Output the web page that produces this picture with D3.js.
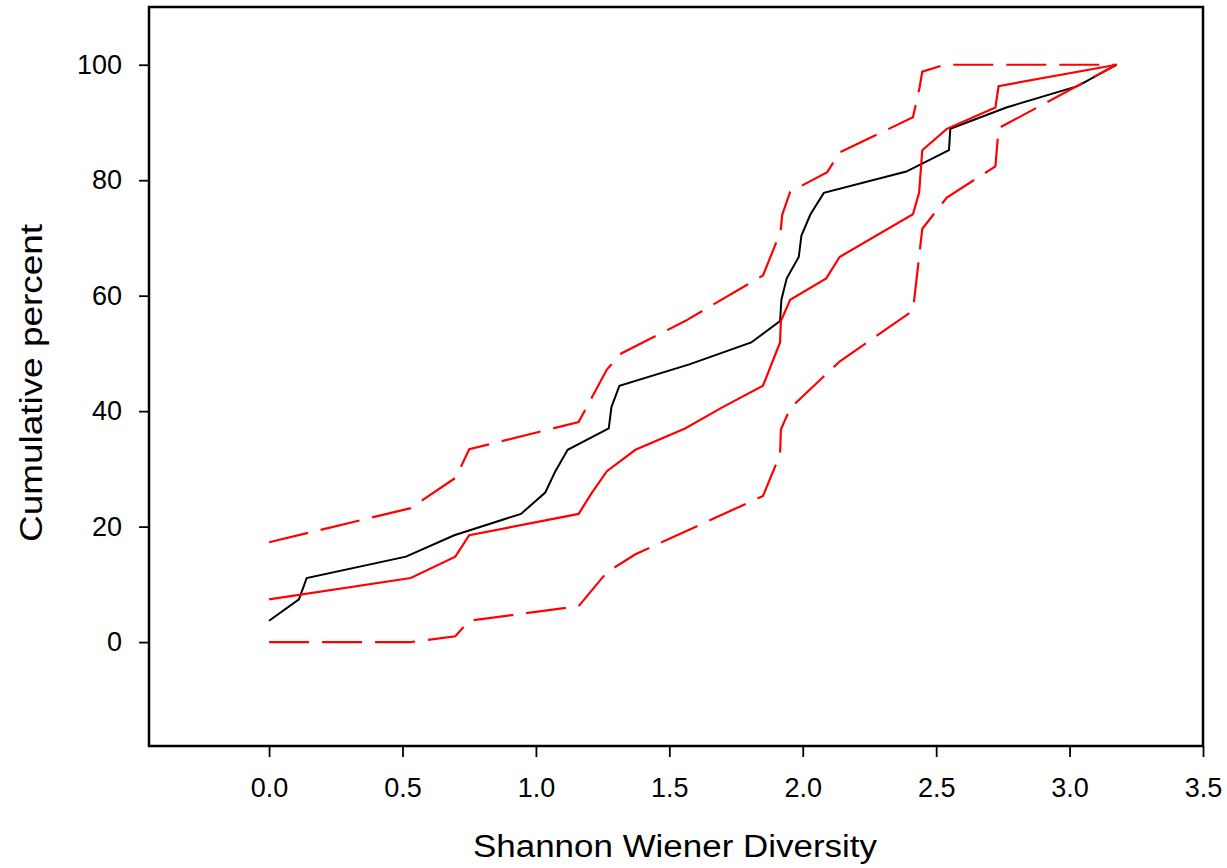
<!DOCTYPE html>
<html>
<head>
<meta charset="utf-8">
<script src="https://cdn.jsdelivr.net/npm/d3@7"></script>
<style>
  html, body { margin: 0; padding: 0; background: #fff; }
  svg { display: block; }
  text { font-family: "Liberation Sans", Arial, Helvetica, sans-serif; fill: #000; }
</style>
</head>
<body>
<svg id="chart" width="1227" height="868"></svg>
<script>
// ---- data ----
const xTickValues = [0.0, 0.5, 1.0, 1.5, 2.0, 2.5, 3.0, 3.5];
const yTickValues = [0, 20, 40, 60, 80, 100];

// observed cumulative distribution (black)
const observedX = [0, 0.112, 0.141, 0.513, 0.694, 0.944, 1.035, 1.073, 1.119, 1.273, 1.283, 1.313,
  1.575, 1.807, 1.915, 1.92, 1.94, 1.985, 1.995, 2.029, 2.079, 2.388, 2.548, 2.553, 2.763, 3.03, 3.176];
const observedY = [3.7, 7.4, 11.1, 14.8, 18.5, 22.2, 25.9, 29.6, 33.3, 37.0, 40.7, 44.4,
  48.1, 51.9, 55.6, 59.3, 63.0, 66.7, 70.4, 74.1, 77.8, 81.5, 85.2, 88.9, 92.6, 96.3, 100];

// expected (red solid)
const expectedX = [0, 0.531, 0.698, 0.75, 1.16, 1.21, 1.266, 1.373, 1.559, 1.70, 1.851, 1.915, 1.918,
  1.953, 2.088, 2.138, 2.413, 2.436, 2.442, 2.448, 2.54, 2.722, 2.734, 3.176];
const expectedY = [7.4, 11.1, 14.8, 18.5, 22.2, 25.9, 29.6, 33.3, 37.0, 40.7, 44.4, 51.9, 55.6,
  59.3, 63.0, 66.7, 74.1, 77.8, 81.5, 85.2, 88.9, 92.6, 96.3, 100];

// upper envelope (red dashed)
const upperX = [0, 0.531, 0.70, 0.75, 1.16, 1.266, 1.32, 1.559, 1.851, 1.917, 1.923, 1.953, 2.092,
  2.138, 2.413, 2.438, 2.448, 2.532, 3.176];
const upperY = [17.3, 23.2, 28.5, 33.4, 38.1, 47.2, 50.0, 55.6, 63.5, 71.1, 74.0, 78.0, 81.4,
  84.8, 90.9, 96.1, 98.8, 100, 100];

// lower envelope (red dashed)
const lowerX = [0, 0.531, 0.698, 0.75, 1.16, 1.266, 1.373, 1.851, 1.915, 1.918, 1.953, 2.138,
  2.413, 2.448, 2.54, 2.722, 2.734, 3.176];
const lowerY = [0, 0, 1.0, 3.7, 6.2, 12.1, 15.2, 25.3, 32.5, 36.8, 40.5, 48.6,
  57.4, 71.6, 77.0, 82.4, 89.0, 100];

const xTitle = "Shannon Wiener Diversity";
const yTitle = "Cumulative percent";

// ---- drawing ----
const svg = d3.select("#chart");
svg.append("rect").attr("width", 1227).attr("height", 868).attr("fill", "#fff");

const plot = { left: 149, right: 1203, top: 7, bottom: 746 };
const x = d3.scaleLinear().domain([-0.45, 3.5]).range([plot.left, plot.right]);
const y = d3.scaleLinear().domain([-18, 110]).range([plot.bottom, plot.top]);

const zip = (xs, ys) => xs.map((v, i) => [v, ys[i]]);
const line = d3.line().x(d => x(d[0])).y(d => y(d[1]));

svg.append("path").datum(zip(observedX, observedY))
  .attr("d", line).attr("fill", "none").attr("stroke", "#000").attr("stroke-width", 2)
  .attr("stroke-linejoin", "miter");
svg.append("path").datum(zip(expectedX, expectedY))
  .attr("d", line).attr("fill", "none").attr("stroke", "#ff0000").attr("stroke-width", 2.2);
svg.append("path").datum(zip(upperX, upperY))
  .attr("d", line).attr("fill", "none").attr("stroke", "#ff0000").attr("stroke-width", 2.2)
  .attr("stroke-dasharray", "40,13");
svg.append("path").datum(zip(lowerX, lowerY))
  .attr("d", line).attr("fill", "none").attr("stroke", "#ff0000").attr("stroke-width", 2.2)
  .attr("stroke-dasharray", "40,13");

// axes
const gx = svg.append("g").attr("transform", `translate(0,${plot.bottom})`)
  .call(d3.axisBottom(x).tickValues(xTickValues).tickFormat(d3.format(".1f")).tickSize(11).tickPadding(21));
const gy = svg.append("g").attr("transform", `translate(${plot.left},0)`)
  .call(d3.axisLeft(y).tickValues(yTickValues).tickFormat(d3.format("d")).tickSize(10).tickPadding(17));
[gx, gy].forEach(g => {
  g.select(".domain").remove();
  g.selectAll(".tick line").attr("stroke", "#000").attr("stroke-width", 1.8);
  g.selectAll(".tick text").attr("font-size", 27).attr("font-family", "Liberation Sans, Arial, sans-serif").attr("fill", "#000");
});

// frame
svg.append("rect")
  .attr("x", plot.left).attr("y", plot.top)
  .attr("width", plot.right - plot.left).attr("height", plot.bottom - plot.top)
  .attr("fill", "none").attr("stroke", "#000").attr("stroke-width", 2.5);

// titles
svg.append("text").attr("x", 675).attr("y", 857).attr("text-anchor", "middle")
  .attr("font-size", 31).attr("textLength", 404).attr("lengthAdjust", "spacingAndGlyphs")
  .text(xTitle);
svg.append("text").attr("transform", "translate(42,383) rotate(-90)").attr("text-anchor", "middle")
  .attr("font-size", 31).attr("textLength", 318).attr("lengthAdjust", "spacingAndGlyphs")
  .text(yTitle);
</script>
</body>
</html>
